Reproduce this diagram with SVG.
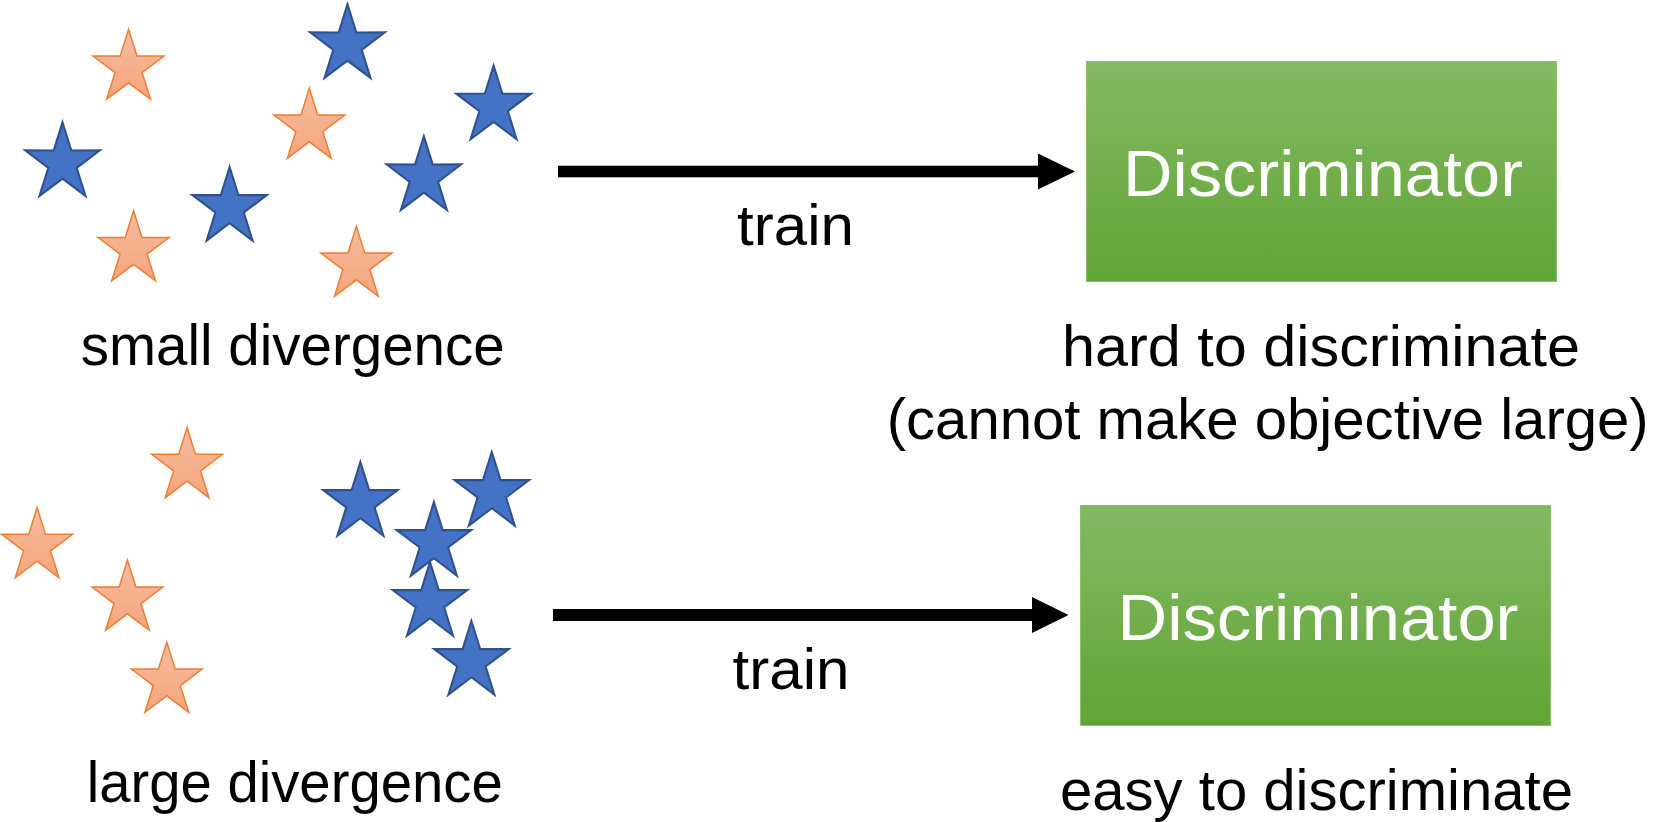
<svg xmlns="http://www.w3.org/2000/svg" width="1665" height="822" viewBox="0 0 1665 822">
<style>
  .t { font-family: "Liberation Sans", Arial, sans-serif; font-size: 57px; fill: #000; }
  .d { font-family: "Liberation Sans", Arial, sans-serif; font-size: 64px; fill: #fff; }
  .o { fill: url(#og); stroke: #ED7D31; stroke-width: 1.5; stroke-linejoin: miter; }
  .b { fill: #4472C4; stroke: #2F528F; stroke-width: 2; stroke-linejoin: miter; }
  .box { fill: url(#gg); stroke: #8DC06C; stroke-width: 1; }
</style>
<defs>
  <linearGradient id="og" x1="0" y1="0" x2="0" y2="1">
    <stop offset="0" stop-color="#F7BDA0"/>
    <stop offset="1" stop-color="#F4A57C"/>
  </linearGradient>
  <linearGradient id="gg" x1="0" y1="0" x2="0" y2="1">
    <stop offset="0" stop-color="#84BA63"/>
    <stop offset="1" stop-color="#61A436"/>
  </linearGradient>
  <path id="star" d="M0,-38 L8.52,-11.73 L36.14,-11.74 L13.79,4.48 L22.34,30.74 L0,14.5 L-22.34,30.74 L-13.79,4.48 L-36.14,-11.74 L-8.52,-11.73 Z"/>
</defs>

<g id="small-divergence-points">
  <use href="#star" class="o" transform="translate(128.6,68) scale(0.98,1.02)"/>
  <use href="#star" class="o" transform="translate(309.3,127) scale(0.98,1.02)"/>
  <use href="#star" class="o" transform="translate(133.6,249.5) scale(0.98,1.02)"/>
  <use href="#star" class="o" transform="translate(356.4,265) scale(0.98,1.02)"/>
  <use href="#star" class="b" transform="translate(347.5,45) scale(1.03,1.07)"/>
  <use href="#star" class="b" transform="translate(493.6,106.3) scale(1.03,1.07)"/>
  <use href="#star" class="b" transform="translate(62.5,163) scale(1.03,1.07)"/>
  <use href="#star" class="b" transform="translate(229.6,207.7) scale(1.03,1.07)"/>
  <use href="#star" class="b" transform="translate(423.9,177) scale(1.03,1.07)"/>
</g>

<g id="large-divergence-points">
  <use href="#star" class="o" transform="translate(187.1,466.3) scale(0.98,1.02)"/>
  <use href="#star" class="o" transform="translate(37.1,546.3) scale(0.98,1.02)"/>
  <use href="#star" class="o" transform="translate(127.5,599) scale(0.98,1.02)"/>
  <use href="#star" class="o" transform="translate(166.8,681) scale(0.98,1.02)"/>
  <use href="#star" class="b" transform="translate(360.4,502.7) scale(1.03,1.07)"/>
  <use href="#star" class="b" transform="translate(491.8,492.7) scale(1.03,1.07)"/>
  <use href="#star" class="b" transform="translate(433.9,542.7) scale(1.03,1.07)"/>
  <use href="#star" class="b" transform="translate(430,602.7) scale(1.03,1.07)"/>
  <use href="#star" class="b" transform="translate(471.4,661.7) scale(1.03,1.07)"/>
</g>

<g id="connectors">
  <rect x="558" y="165.7" width="481" height="11.6" fill="#000"/>
  <polygon points="1038,153.5 1075,171.5 1038,189.5" fill="#000"/>
  <rect x="553" y="609" width="480" height="12" fill="#000"/>
  <polygon points="1032,597 1068.5,615 1032,633" fill="#000"/>
</g>

<g id="disc-top">
  <rect class="box" x="1086.5" y="61.5" width="470" height="220"/>
  <text class="d" x="1123" y="196" textLength="400" lengthAdjust="spacingAndGlyphs">Discriminator</text>
</g>

<g id="disc-bottom">
  <rect class="box" x="1080.5" y="505.5" width="470" height="220"/>
  <text class="d" x="1117.5" y="640" textLength="401" lengthAdjust="spacingAndGlyphs">Discriminator</text>
</g>

<g id="labels">
  <text class="t" x="737" y="245" textLength="117" lengthAdjust="spacingAndGlyphs">train</text>
  <text class="t" x="732.5" y="689" textLength="117" lengthAdjust="spacingAndGlyphs">train</text>
  <text class="t" x="80.7" y="365" textLength="424" lengthAdjust="spacingAndGlyphs">small divergence</text>
  <text class="t" x="86.7" y="802" textLength="416" lengthAdjust="spacingAndGlyphs">large divergence</text>
  <text class="t" x="1062" y="366" textLength="518" lengthAdjust="spacingAndGlyphs">hard to discriminate</text>
  <text class="t" x="886.7" y="439" textLength="762" lengthAdjust="spacingAndGlyphs">(cannot make objective large)</text>
  <text class="t" x="1060" y="810" textLength="513" lengthAdjust="spacingAndGlyphs">easy to discriminate</text>
</g>
</svg>
